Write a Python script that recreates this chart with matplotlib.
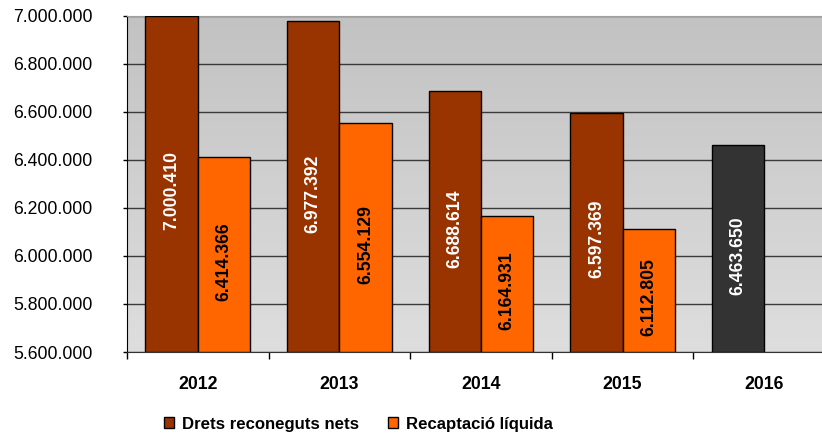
import numpy as np
import matplotlib
matplotlib.use("Agg")
import matplotlib.pyplot as plt
from matplotlib.colors import LinearSegmentedColormap
from matplotlib.patches import Patch

plt.rcParams['font.family'] = ['Liberation Sans', 'DejaVu Sans']

years = ['2012', '2013', '2014', '2015', '2016']
drets = [7000410, 6977392, 6688614, 6597369, 6463650]
recaptacio = [6414366, 6554129, 6164931, 6112805]
yticks = [5600000, 5800000, 6000000, 6200000, 6400000, 6600000, 6800000, 7000000]

ymin, ymax = 5600000, 7000000
brown, orange, grey = '#993300', '#FF6600', '#333333'


def fmt(v):
    return f"{v:,}".replace(",", ".")


fig = plt.figure(figsize=(8.22, 4.36), dpi=100)
ax = fig.add_axes([127/822, 84/436, 708/822, 336/436])

# background gradient
bg = LinearSegmentedColormap.from_list('bg', ['#c2c2c2', '#dedede'])
ax.imshow(np.linspace(0, 1, 256).reshape(-1, 1), extent=[-0.5, 4.5, ymin, ymax],
          aspect='auto', cmap=bg, origin='upper', zorder=0)

x = np.arange(len(years))
w = 0.37
cols = [brown] * 4 + [grey]
b1 = ax.bar(x - w/2, np.array(drets) - ymin, w, bottom=ymin, color=cols,
            edgecolor='black', linewidth=1, zorder=3)
b2 = ax.bar(x[:4] + w/2, np.array(recaptacio) - ymin, w, bottom=ymin, color=orange,
            edgecolor='black', linewidth=1, zorder=3)

for xi, v in zip(x - w/2, drets):
    ax.annotate(fmt(v), (xi, (min(v, ymax) + ymin) / 2), xytext=(0, -5),
                textcoords='offset points', rotation=90, ha='center', va='center',
                color='white', fontsize=12.7, fontweight='bold', zorder=4)
for xi, v in zip(x[:4] + w/2, recaptacio):
    ax.annotate(fmt(v), (xi, (v + ymin) / 2), xytext=(0, -5),
                textcoords='offset points', rotation=90, ha='center', va='center',
                color='black', fontsize=12.7, fontweight='bold', zorder=4)

ax.set_xlim(-0.5, 4.5)
ax.set_ylim(ymin, ymax)
ax.set_yticks(yticks)
ax.set_yticklabels([fmt(t) for t in yticks], fontsize=12.7)
ax.tick_params(axis='y', length=3, width=1, pad=22)

ax.set_xticks(x)
ax.set_xticklabels(years, fontsize=12.7, fontweight='bold')
ax.set_xticks(np.arange(-0.5, 5, 1), minor=True)
ax.tick_params(axis='x', which='major', length=0, pad=17)
ax.tick_params(axis='x', which='minor', length=5, width=1, direction='out')

ax.yaxis.grid(True, color='#3a3a3a', linewidth=1)
ax.set_axisbelow(True)
ax.spines['top'].set_color('#a0a0a0')
ax.spines['right'].set_visible(False)
ax.spines['left'].set_color('black')
ax.spines['bottom'].set_color('#333333')

handles = [Patch(facecolor=brown, edgecolor='black', label='Drets reconeguts nets'),
           Patch(facecolor=orange, edgecolor='black', label='Recaptació líquida')]
fig.legend(handles=handles, loc='center', bbox_to_anchor=(0.436, 0.027), ncol=2,
           frameon=False, prop={'size': 12.1, 'weight': 'bold'},
           handlelength=0.6, handleheight=0.6, handletextpad=0.45, columnspacing=1.75)

fig.savefig('out.png', dpi=100)
